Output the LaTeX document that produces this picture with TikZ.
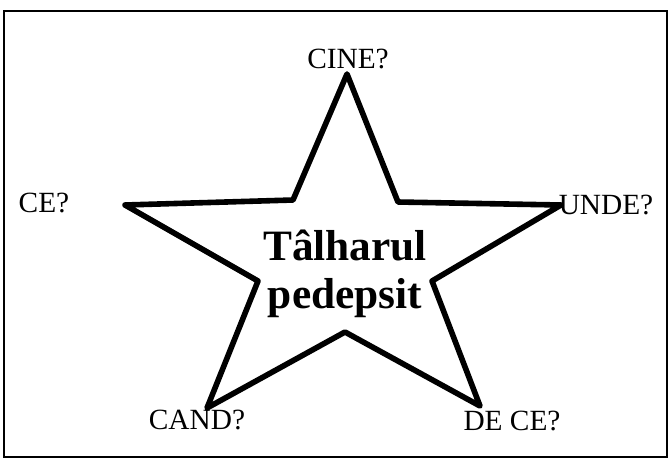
\documentclass[tikz,border=0pt]{standalone}
\usepackage{fontspec}
\setmainfont{Liberation Serif}

\begin{document}
\begin{tikzpicture}[x=0.75pt,y=-0.75pt,
    question/.style={inner sep=0pt,font=\fontsize{22}{25}\selectfont},
    starline/.style={line width=4.2pt,line join=round,line cap=round}]
\useasboundingbox (0,0) rectangle (670,465);

% draw frame
\draw[line width=2pt] (4,11) rectangle (667,457);

% draw star points
\coordinate (top) at (347,74);
\coordinate (ur) at (398,202);
\coordinate (right) at (561,205);
\coordinate (lr) at (432,281);
\coordinate (br) at (480,406);
\coordinate (bot) at (345,332);
\coordinate (bl) at (207,408);
\coordinate (ll) at (258,281);
\coordinate (left) at (125,205);
\coordinate (ul) at (293,200);

\draw[starline] (top) -- (ur) -- (right) -- (lr) -- (br) -- (bot)
  -- (bl) -- (ll) -- (left) -- (ul) -- cycle;

% draw title
\node[align=center,inner sep=0pt,font=\bfseries\fontsize{32.5}{36}\selectfont]
  (title) at (345,274) {Tâlharul\\pedepsit};

% draw questions
\node[question] (cine) at (348,59) {CINE?};
\node[question] (unde) at (606,205) {UNDE?};
\node[question] (dece) at (512,421) {DE CE?};
\node[question] (cand) at (197,420) {CAND?};
\node[question] (ce) at (44,203) {CE?};

\end{tikzpicture}
\end{document}
